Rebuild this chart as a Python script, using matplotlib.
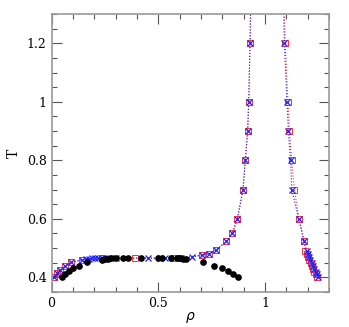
import matplotlib
matplotlib.use('Agg')
import matplotlib.pyplot as plt
from matplotlib.ticker import MultipleLocator

# blue crosses (rho, T)
rhoBlue = [0.013, 0.027, 0.04, 0.063, 0.091, 0.144, 0.16, 0.175, 0.19, 0.205, 0.22, 0.235,
           0.25, 0.265, 0.28, 0.30, 0.45, 0.51, 0.53, 0.609, 0.656, 0.703, 0.738, 0.769,
           0.819, 0.847, 0.871, 0.897, 0.908, 0.919, 0.924, 0.93, 0.935,
           1.085, 1.091, 1.103, 1.11, 1.12, 1.126, 1.158, 1.183, 1.195, 1.201, 1.207,
           1.213, 1.219, 1.225, 1.231, 1.237, 1.242, 1.248]
TBlue = [0.40, 0.415, 0.426, 0.44, 0.451, 0.46, 0.463, 0.464, 0.465, 0.465, 0.466, 0.466,
         0.466, 0.466, 0.466, 0.466, 0.466, 0.466, 0.466, 0.467, 0.469, 0.476, 0.481, 0.492,
         0.523, 0.55, 0.6, 0.7, 0.8, 0.9, 1.0, 1.2, 1.4,
         1.4, 1.2, 1.0, 0.9, 0.8, 0.7, 0.6, 0.523, 0.49, 0.48, 0.47,
         0.46, 0.45, 0.44, 0.43, 0.42, 0.41, 0.40]

# red squares (rho, T)
rhoRed = [0.013, 0.027, 0.04, 0.063, 0.091, 0.144, 0.235, 0.39, 0.57, 0.60, 0.703, 0.738,
          0.769, 0.819, 0.847, 0.871, 0.897, 0.908, 0.919, 0.924, 0.93, 0.935,
          1.088, 1.095, 1.108, 1.115, 1.125, 1.138, 1.16, 1.185, 1.19, 1.196, 1.202,
          1.208, 1.214, 1.22, 1.226, 1.232, 1.237, 1.243]
TRed = [0.40, 0.415, 0.426, 0.44, 0.451, 0.46, 0.466, 0.466, 0.466, 0.466, 0.476, 0.481,
        0.492, 0.523, 0.55, 0.6, 0.7, 0.8, 0.9, 1.0, 1.2, 1.4,
        1.4, 1.2, 1.0, 0.9, 0.8, 0.7, 0.6, 0.523, 0.49, 0.48, 0.47,
        0.46, 0.45, 0.44, 0.43, 0.42, 0.41, 0.40]

# black circles (rho, T)
rhoBlack = [0.048, 0.063, 0.08, 0.1, 0.127, 0.168, 0.238, 0.25, 0.265, 0.28, 0.30, 0.335,
            0.36, 0.42, 0.50, 0.52, 0.56, 0.59, 0.60, 0.615, 0.63,
            0.709, 0.759, 0.797, 0.827, 0.852, 0.876]
TBlack = [0.40, 0.413, 0.423, 0.432, 0.44, 0.451, 0.461, 0.463, 0.464, 0.465, 0.465, 0.465,
          0.465, 0.466, 0.465, 0.465, 0.465, 0.465, 0.465, 0.464, 0.463,
          0.451, 0.44, 0.431, 0.422, 0.412, 0.401]

plt.rcParams['font.family'] = ['DejaVu Serif']
fig = plt.figure(figsize=(3.49, 3.27), dpi=100)
ax = fig.add_axes([0.1476, 0.107, 0.795, 0.85])

ax.plot(rhoRed, TRed, color='#ff3030', linestyle=':', linewidth=0.8, marker='s',
        markersize=4, markerfacecolor='none', markeredgewidth=0.7)
ax.plot(rhoBlue, TBlue, color='#2020ff', linestyle=':', linewidth=0.8, marker='x',
        markersize=4.5, markeredgewidth=0.9)
ax.plot(rhoBlack, TBlack, 'o', color='black', markersize=3.8, linestyle='none')

ax.set_xlim(0, 1.3)
ax.set_ylim(0.35, 1.3)
ax.xaxis.set_minor_locator(MultipleLocator(0.1))
ax.yaxis.set_minor_locator(MultipleLocator(0.05))
ax.set_xticks([0, 0.5, 1])
ax.set_xticklabels(['0', '0.5', '1'])
ax.set_yticks([0.4, 0.6, 0.8, 1.0, 1.2])
ax.set_yticklabels(['0.4', '0.6', '0.8', '1', '1.2'])

ax.tick_params(which='both', direction='in', top=True, right=True, colors='#555555',
               labelcolor='black', labelsize=9)
ax.tick_params(which='major', length=7, width=0.8)
ax.tick_params(which='minor', length=3.5, width=0.8)
for s in ax.spines.values():
    s.set_color('#999999')
    s.set_linewidth(1.2)

ax.set_xlabel(r'$\rho$', fontsize=10, labelpad=0)
ax.set_ylabel('T', fontsize=10, rotation=90)

plt.savefig('out.png', dpi=100)
